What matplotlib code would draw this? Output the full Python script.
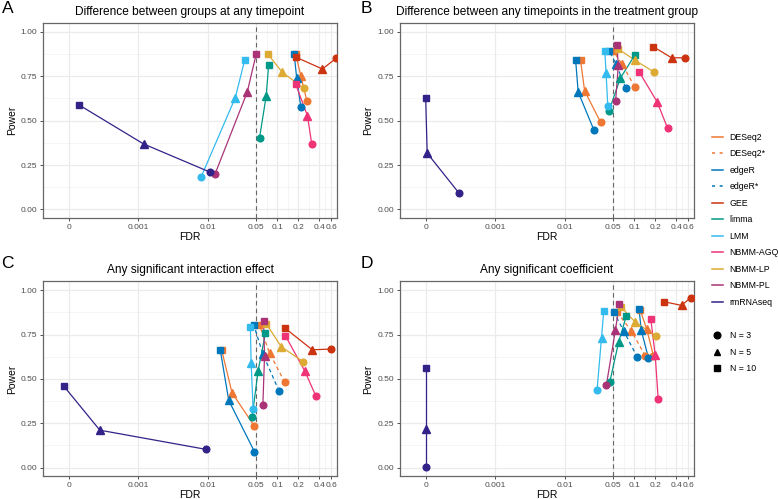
import matplotlib.pyplot as plt
from matplotlib.lines import Line2D

plt.rcParams['font.family'] = ['Liberation Sans', 'DejaVu Sans']

methods = ["DESeq2", "DESeq2*", "edgeR", "edgeR*", "GEE", "limma", "LMM",
           "NBMM-AGQ", "NBMM-LP", "NBMM-PL", "rmRNAseq"]
colors = ["#EE7733", "#EE7733", "#0077BB", "#0077BB", "#CC3311", "#009988",
          "#33BBEE", "#EE3377", "#DDAA33", "#AA3377", "#332288"]
dashed = ["DESeq2*", "edgeR*"]
sample_sizes = [3, 5, 10]
markers = ["o", "^", "s"]

titles = ["Difference between groups at any timepoint",
          "Difference between any timepoints in the treatment group",
          "Any significant interaction effect",
          "Any significant coefficient"]
letters = ["A", "B", "C", "D"]

# "0" is drawn at 1e-4 on the log axis
fdr_ticks = [1e-4, 1e-3, 1e-2, 0.05, 0.1, 0.2, 0.4, 0.6]
fdr_labels = ["0", "0.001", "0.01", "0.05", "0.1", "0.2", "0.4", "0.6"]

# values per method, ordered N = 3, 5, 10
fdr_a = {
    "DESeq2": [0.266, 0.218, 0.184],
    "edgeR": [0.218, 0.19, 0.175],
    "GEE": [0.70, 0.445, 0.184],
    "limma": [0.0556, 0.0693, 0.075],
    "LMM": [0.0080, 0.0249, 0.034],
    "NBMM-AGQ": [0.313, 0.271, 0.184],
    "NBMM-LP": [0.24, 0.118, 0.0727],
    "NBMM-PL": [0.0127, 0.037, 0.0497],
    "rmRNAseq": [0.0108, 0.00119, 0.00014],
}
power_a = {
    "DESeq2": [0.612, 0.751, 0.873],
    "edgeR": [0.578, 0.739, 0.873],
    "GEE": [0.851, 0.791, 0.858],
    "limma": [0.405, 0.641, 0.815],
    "LMM": [0.182, 0.630, 0.843],
    "NBMM-AGQ": [0.369, 0.528, 0.705],
    "NBMM-LP": [0.683, 0.772, 0.876],
    "NBMM-PL": [0.199, 0.662, 0.876],
    "rmRNAseq": [0.21, 0.369, 0.589],
}

fdr_b = {
    "DESeq2": [0.0327, 0.0193, 0.0169],
    "DESeq2*": [0.102, 0.067, 0.0493],
    "edgeR": [0.0262, 0.0156, 0.01436],
    "edgeR*": [0.075, 0.055, 0.0432],
    "GEE": [0.536, 0.344, 0.189],
    "limma": [0.0434, 0.063, 0.101],
    "LMM": [0.0416, 0.0393, 0.0377],
    "NBMM-AGQ": [0.302, 0.213, 0.118],
    "NBMM-LP": [0.193, 0.103, 0.0589],
    "NBMM-PL": [0.054, 0.0589, 0.0564],
    "rmRNAseq": [0.0003, 0.000105, 0.0001],
}
power_b = {
    "DESeq2": [0.492, 0.668, 0.839],
    "DESeq2*": [0.69, 0.817, 0.895],
    "edgeR": [0.448, 0.662, 0.839],
    "edgeR*": [0.686, 0.817, 0.895],
    "GEE": [0.854, 0.854, 0.916],
    "limma": [0.556, 0.739, 0.867],
    "LMM": [0.584, 0.77, 0.891],
    "NBMM-AGQ": [0.457, 0.606, 0.774],
    "NBMM-LP": [0.774, 0.839, 0.904],
    "NBMM-PL": [0.612, 0.811, 0.925],
    "rmRNAseq": [0.093, 0.317, 0.625],
}

fdr_c = {
    "DESeq2": [0.0469, 0.0223, 0.0158],
    "DESeq2*": [0.128, 0.0773, 0.0553],
    "edgeR": [0.0469, 0.02, 0.0151],
    "edgeR*": [0.106, 0.062, 0.0459],
    "GEE": [0.593, 0.318, 0.131],
    "limma": [0.0434, 0.053, 0.0676],
    "LMM": [0.0449, 0.042, 0.041],
    "NBMM-AGQ": [0.359, 0.249, 0.131],
    "NBMM-LP": [0.235, 0.114, 0.0693],
    "NBMM-PL": [0.062, 0.0655, 0.0634],
    "rmRNAseq": [0.0094, 0.00028, 0.000085],
}
power_c = {
    "DESeq2": [0.233, 0.422, 0.664],
    "DESeq2*": [0.481, 0.646, 0.804],
    "edgeR": [0.09, 0.379, 0.664],
    "edgeR*": [0.431, 0.64, 0.804],
    "GEE": [0.668, 0.664, 0.784],
    "limma": [0.285, 0.547, 0.758],
    "LMM": [0.328, 0.59, 0.793],
    "NBMM-AGQ": [0.403, 0.543, 0.743],
    "NBMM-LP": [0.597, 0.681, 0.811],
    "NBMM-PL": [0.355, 0.631, 0.827],
    "rmRNAseq": [0.103, 0.211, 0.459],
}

fdr_d = {
    "DESeq2": [0.189, 0.151, 0.122],
    "DESeq2*": [0.1436, 0.0905, 0.0564],
    "edgeR": [0.16, 0.126, 0.117],
    "edgeR*": [0.111, 0.0703, 0.0506],
    "GEE": [0.644, 0.479, 0.268],
    "limma": [0.0444, 0.0597, 0.0769],
    "LMM": [0.0292, 0.0338, 0.0364],
    "NBMM-AGQ": [0.221, 0.2, 0.173],
    "NBMM-LP": [0.204, 0.103, 0.0651],
    "NBMM-PL": [0.0398, 0.0535, 0.061],
    "rmRNAseq": [0.0001, 0.0001, 0.0001],
}
power_d = {
    "DESeq2": [0.63, 0.78, 0.887],
    "DESeq2*": [0.631, 0.771, 0.877],
    "edgeR": [0.618, 0.774, 0.895],
    "edgeR*": [0.621, 0.771, 0.877],
    "GEE": [0.957, 0.914, 0.935],
    "limma": [0.481, 0.709, 0.855],
    "LMM": [0.44, 0.733, 0.883],
    "NBMM-AGQ": [0.384, 0.634, 0.836],
    "NBMM-LP": [0.743, 0.82, 0.905],
    "NBMM-PL": [0.467, 0.774, 0.92],
    "rmRNAseq": [0.006, 0.217, 0.56],
}

panels = [(fdr_a, power_a), (fdr_b, power_b), (fdr_c, power_c), (fdr_d, power_d)]
boxes = [[0.0553, 0.5625, 0.378, 0.3914], [0.5141, 0.5625, 0.378, 0.3914],
         [0.0553, 0.0451, 0.378, 0.3912], [0.5141, 0.0451, 0.378, 0.3912]]


def draw_panel(ax, fdr, power, title):
    ax.set_xscale('log')
    ax.set_xlim(10 ** -4.37, 10 ** -0.14)
    ax.set_ylim(-0.05, 1.05)
    minor_x = [0.0707, 0.1414, 0.2828, 0.49]
    for v in minor_x:
        ax.axvline(v, color='#F2F2F2', lw=0.5, zorder=0)
    for v in [0.125, 0.375, 0.625, 0.875]:
        ax.axhline(v, color='#F2F2F2', lw=0.5, zorder=0)
    for v in fdr_ticks:
        ax.axvline(v, color='#EBEBEB', lw=0.9, zorder=0)
    for v in [0, 0.25, 0.5, 0.75, 1.0]:
        ax.axhline(v, color='#EBEBEB', lw=0.9, zorder=0)
    ax.axvline(0.05, color='#666666', lw=0.8, ls=(0, (4, 3)), zorder=1)

    for m, c in zip(methods, colors):
        if m not in fdr:
            continue
        ls = (0, (3, 2.5)) if m in dashed else '-'
        ax.plot(fdr[m], power[m], color=c, lw=0.9, ls=ls, zorder=2)
    for m, c in zip(methods, colors):
        if m not in fdr:
            continue
        for x, y, mk in zip(fdr[m], power[m], markers):
            ax.plot(x, y, marker=mk, color=c, ms=5.2 if mk == '^' else 4.8,
                    ls='none', zorder=3, clip_on=True)

    ax.set_xticks(fdr_ticks)
    ax.set_xticklabels(fdr_labels)
    ax.minorticks_off()
    ax.set_yticks([0, 0.25, 0.5, 0.75, 1.0])
    ax.set_yticklabels(["0.00", "0.25", "0.50", "0.75", "1.00"])
    ax.tick_params(labelsize=6, colors='#333333', labelcolor='#4D4D4D',
                   length=2.5, width=0.6, pad=1.5)
    for s in ax.spines.values():
        s.set_color('#666666')
        s.set_linewidth(0.9)
    ax.set_xlabel("FDR", fontsize=7.5, labelpad=0.5)
    ax.set_ylabel("Power", fontsize=7.5, labelpad=3)
    ax.set_title(title, fontsize=8.6, pad=6)


fig = plt.figure(figsize=(7.78, 4.99), dpi=100)
for i, (fdr, power) in enumerate(panels):
    ax = fig.add_axes(boxes[i])
    draw_panel(ax, fdr, power, titles[i])
    lx = 0.002 if i % 2 == 0 else 0.463
    ly = 0.998 if i < 2 else 0.487
    fig.text(lx, ly, letters[i], fontsize=12.5, va='top', ha='left')

method_handles = [Line2D([], [], color=c, lw=1.1,
                         ls=(0, (2, 3)) if m in dashed else '-')
                  for m, c in zip(methods, colors)]
fig.legend(method_handles, methods, loc='upper left',
           bbox_to_anchor=(0.9148, 0.734), frameon=False, fontsize=6.3,
           handlelength=1.3, handletextpad=0.75, labelspacing=0.86,
           borderpad=0, borderaxespad=0)

shape_handles = [Line2D([], [], color='black', marker=mk, ls='none', ms=4.8)
                 for mk in markers]
shape_labels = ["N = %d" % n for n in sample_sizes]
fig.legend(shape_handles, shape_labels, loc='upper left',
           bbox_to_anchor=(0.9148, 0.336), frameon=False, fontsize=6.3,
           handlelength=1.3, handletextpad=0.75, labelspacing=0.86,
           borderpad=0, borderaxespad=0)

fig.savefig("out.png", dpi=100)
